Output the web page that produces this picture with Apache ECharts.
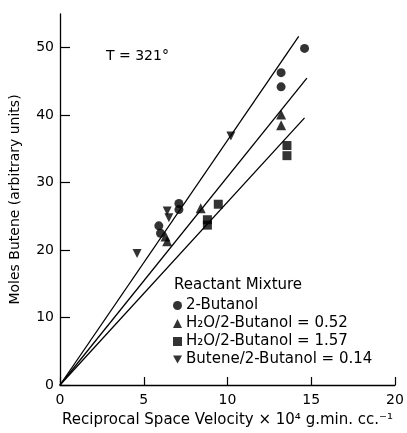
<!DOCTYPE html>
<html><head><meta charset="utf-8">
<script src="https://cdn.jsdelivr.net/npm/echarts@6/dist/echarts.min.js"></script>
<style>html,body{margin:0;padding:0;background:#fff}#c{width:407px;height:433px}</style>
</head><body><div id="c"></div>
<script>
// Data
const butanol = [[5.9, 23.6], [6.0, 22.5], [7.1, 26.9], [7.1, 26.0], [13.2, 46.3], [13.2, 44.2], [14.6, 49.9]];
const h2o052 = [[6.3, 22.0], [6.4, 21.3], [8.4, 26.2], [13.2, 40.1], [13.2, 38.5]];
const h2o157 = [[8.8, 24.5], [8.8, 23.7], [9.45, 26.8], [13.55, 35.5], [13.55, 34.0]];
const butene = [[4.6, 19.5], [6.4, 25.8], [6.5, 24.8], [10.2, 36.9]];
const lineTop = [[0, 0], [14.25, 51.7]];
const lineMid = [[0, 0], [14.74, 45.5]];
const lineLow = [[0, 0], [14.6, 39.6]];
const xTicks = [0, 5, 10, 15, 20];
const yTicks = [0, 10, 20, 30, 40, 50];
const seriesNames = ['2-Butanol', 'H\u2082O/2-Butanol = 0.52', 'H\u2082O/2-Butanol = 1.57', 'Butene/2-Butanol = 0.14'];

const FONT = 'DejaVu Sans';
const chart = echarts.init(document.getElementById('c'));
const downTri = 'path://M0,0 L10,0 L5,9 Z';
const fitLine = d => ({type: 'line', data: d, symbol: 'none', silent: true,
  lineStyle: {color: '#000', width: 1.3}, z: 1});
chart.setOption({
  animation: false,
  backgroundColor: '#fff',
  textStyle: {fontFamily: FONT, color: '#000'},
  title: [
    {text: 'T = 321\u00b0', left: 101, top: 44, textStyle: {fontFamily: FONT, fontSize: 14, fontWeight: 'normal', color: '#000'}},
    {text: 'Reactant Mixture', left: 169, top: 273, textStyle: {fontFamily: FONT, fontSize: 15, fontWeight: 'normal', color: '#000'}}
  ],
  legend: {
    orient: 'vertical', left: 168, top: 293, itemWidth: 9, itemHeight: 9, itemGap: 3,
    data: seriesNames,
    textStyle: {fontFamily: FONT, fontSize: 15, color: '#000', padding: [0, 0, 0, -1]}
  },
  grid: {left: 59, right: 12, top: 14, bottom: 45},
  xAxis: {
    type: 'value', min: 0, max: 20, interval: 5,
    name: 'Reciprocal Space Velocity \u00d7 10\u2074 g.min. cc.\u207b\u00b9',
    nameLocation: 'middle', nameGap: 28,
    nameTextStyle: {fontFamily: FONT, fontSize: 15, color: '#000'},
    axisLine: {lineStyle: {color: '#000', width: 1.3}},
    axisTick: {inside: true, length: 8, lineStyle: {color: '#000', width: 1.2}, customValues: xTicks},
    axisLabel: {fontFamily: FONT, fontSize: 14, color: '#000', margin: 8, customValues: xTicks},
    splitLine: {show: false}
  },
  yAxis: {
    type: 'value', min: 0, max: 55, interval: 10,
    name: 'Moles Butene (arbitrary units)',
    nameLocation: 'middle', nameGap: 38, nameRotate: 90,
    nameTextStyle: {fontFamily: FONT, fontSize: 14, color: '#000'},
    axisLine: {show: true, lineStyle: {color: '#000', width: 1.3}},
    axisTick: {show: true, inside: true, length: 10, lineStyle: {color: '#000', width: 1.2}, customValues: yTicks},
    axisLabel: {fontFamily: FONT, fontSize: 14, color: '#000', margin: 6, customValues: yTicks},
    splitLine: {show: false}
  },
  series: [
    fitLine(lineTop), fitLine(lineMid), fitLine(lineLow),
    {name: seriesNames[0], type: 'scatter', data: butanol, symbol: 'circle', symbolSize: 9, itemStyle: {color: '#000'}, z: 3},
    {name: seriesNames[1], type: 'scatter', data: h2o052, symbol: 'triangle', symbolSize: 10, itemStyle: {color: '#000'}, z: 3},
    {name: seriesNames[2], type: 'scatter', data: h2o157, symbol: 'rect', symbolSize: 9, itemStyle: {color: '#000'}, z: 3},
    {name: seriesNames[3], type: 'scatter', data: butene, symbol: downTri, symbolSize: 9, itemStyle: {color: '#000'}, z: 3}
  ]
});
</script></body></html>
